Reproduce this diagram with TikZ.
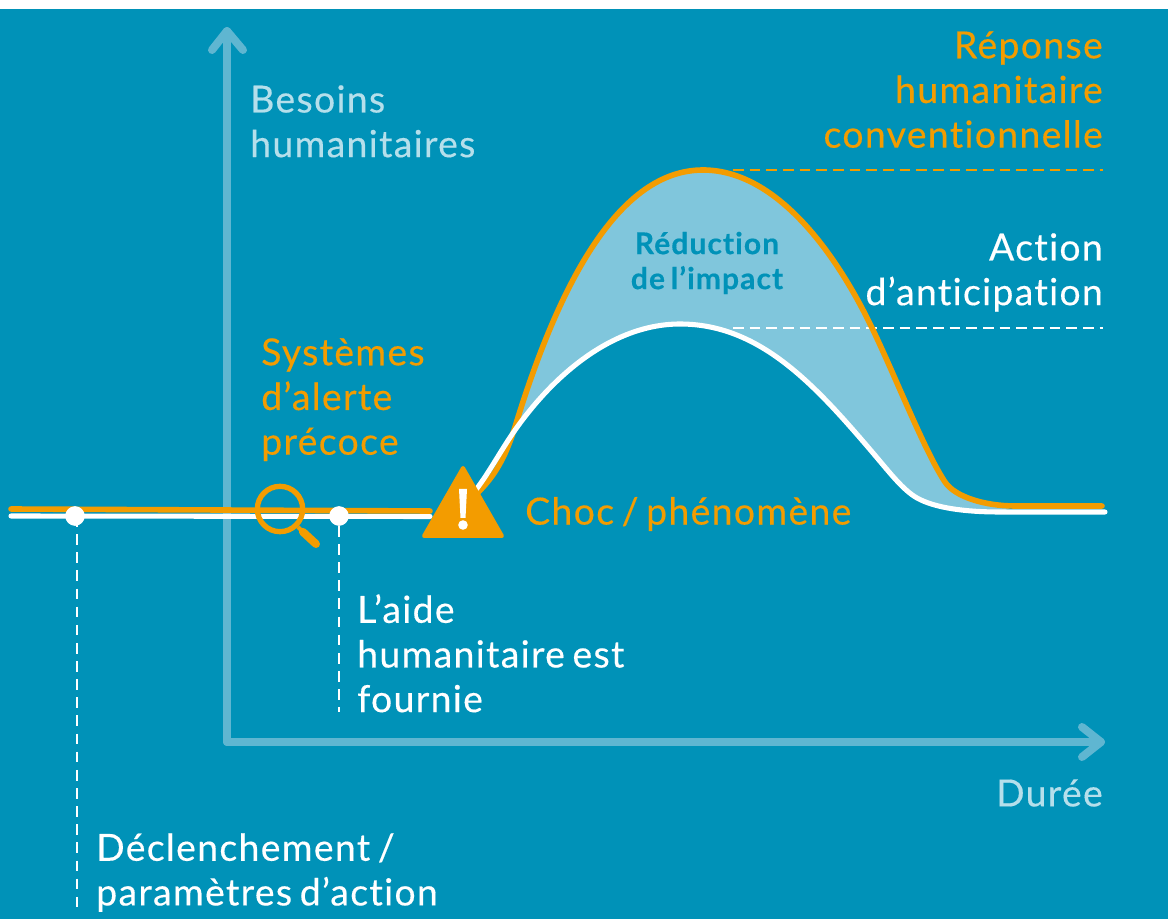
\documentclass[tikz,border=0pt]{standalone}
\usepackage{fontspec}
\setmainfont[LetterSpace=3.6,Ligatures=NoCommon,WordSpace=0.7,FakeBold=0.35]{Lato}
\definecolor{bgblue}{HTML}{0092B8}
\definecolor{axisblue}{HTML}{5FB6D1}
\definecolor{fillblue}{HTML}{80C6DC}
\definecolor{orangeL}{HTML}{F39C00}
\definecolor{paleT}{HTML}{B5DFEB}
\tikzset{
 x=0.75pt,y=-0.75pt,
 axisline/.style={draw=axisblue,line width=6pt,line cap=round,line join=round},
 orangeline/.style={draw=orangeL,line width=4.2pt,line cap=round,line join=round},
 whiteline/.style={draw=white,line width=3.8pt,line cap=round,line join=round},
 dashline/.style={draw=white,line width=2.2pt,dash pattern=on 8pt off 5.6pt},
 leveldash/.style={line width=1.9pt,dash pattern=on 8pt off 4.5pt},
 lab/.style={font=\fontsize{28}{33.5}\selectfont,inner sep=0pt,align=left},
 labr/.style={lab,align=right},
 dotnode/.style={circle,fill=white,minimum size=14.5pt,inner sep=0pt},
}
\begin{document}
\begin{tikzpicture}
\useasboundingbox (0,0) rectangle (1168,919);
\fill[white] (0,0) rectangle (1168,919);
\fill[bgblue] (0,9) rectangle (1168,919);
% coordinates
\coordinate (ytop) at (227,31);
\coordinate (origin) at (227,742);
\coordinate (xend) at (1101,742);
\coordinate (opeak) at (703,170);
\coordinate (wpeak) at (680,324);
% axes
\draw[axisline] (origin) -- (ytop);
\draw[axisline] (212,50) -- (ytop) -- (243,50);
\draw[axisline] (origin) -- (xend);
\draw[axisline] (1082,727) -- (xend) -- (1082,757);
% impact area
\fill[fillblue] (515,427) .. controls (560,280) and (620,170) .. (opeak)
 .. controls (770,170) and (830,240) .. (873,330)
 .. controls (896,378) and (925,452) .. (945,482)
 .. controls (955,497) and (985,506) .. (1015,506)
 -- (1000,512) .. controls (965,512) and (935,508) .. (917,498)
 .. controls (903,490) and (890,473) .. (873,453)
 .. controls (815,385) and (760,324) .. (wpeak)
 .. controls (615,324) and (555,372) .. (513,433) -- cycle;
% dashed levels
\coordinate (od1) at (733,170);\coordinate (od2) at (1103,170);
\coordinate (wd1) at (733,328);\coordinate (wd2) at (1103,328);
\draw[leveldash,draw=orangeL] (od1) -- (od2);
\draw[leveldash,draw=white] (wd1) -- (wd2);
% curves
\draw[whiteline] (11,516) -- (430,516.5);
\draw[orangeline] (11,509) -- (430,511);
\draw[orangeline] (470,500) .. controls (490,482) and (503,465) .. (515,427)
 .. controls (560,280) and (620,170) .. (opeak)
 .. controls (770,170) and (830,240) .. (873,330)
 .. controls (896,378) and (925,452) .. (945,482)
 .. controls (955,497) and (985,506) .. (1015,506) -- (1102,506);
\draw[whiteline] (470,497) .. controls (485,480) and (498,455) .. (513,433)
 .. controls (555,372) and (615,324) .. (wpeak)
 .. controls (760,324) and (815,385) .. (873,453)
 .. controls (890,473) and (903,490) .. (917,498)
 .. controls (935,508) and (965,512) .. (1000,512) -- (1105,512);
% dots and dashed drops
\node[dotnode] (d1) at (75,516) {};
\node[dotnode] (d2) at (339,516) {};
\coordinate (d1e) at (77,908);
\coordinate (d2e) at (339,712);
\coordinate (d1s) at (77,516);
\draw[dashline] (d1s) -- (d1e);
\draw[dashline] (d2) -- (d2e);
\node[dotnode] at (d1) {};
\node[dotnode] at (d2) {};
% magnifier
\node[circle,draw=orangeL,line width=4pt,minimum size=34pt,inner sep=0pt] (mag) at (280,509) {};
\coordinate (mage) at (316,544);
\draw[draw=orangeL,line width=6pt,line cap=round] (mag.-45) ++(5,5) -- (mage);
\draw[draw=orangeL,line width=3pt] (mag.-45) -- ++(7,7);
% warning triangle
\fill[orangeL,draw=orangeL,line width=3pt,line join=round] (424,536) -- (463,468) -- (502,536) -- cycle;
\fill[white] (459,489) -- (467,489) -- (465.5,518) -- (460.5,518) -- cycle;
\fill[white] (463,525) circle (4.8);
% labels
\node[lab,text=paleT,anchor=north west] (besoins) at (250,85) {Besoins\\humanitaires};
\node[labr,text=orangeL,anchor=north east] (rep) at (1103,31) {Réponse\\humanitaire\\conventionnelle};
\node[labr,text=white,anchor=north east] (act) at (1103,233) {Action\\d’anticipation};
\node[lab,text=orangeL,anchor=north west] (sys) at (261,338) {Systèmes\\d’alerte\\précoce};
\node[lab,text=orangeL,anchor=west] (choc) at (525,514) {Choc / phénomène};
\node[lab,text=white,anchor=north west] (aide) at (357,594) {L’aide\\humanitaire est\\fournie};
\node[lab,text=paleT,anchor=east] (duree) at (1103,793) {Durée};
\node[lab,text=white,anchor=north west] (decl) at (96,833) {Déclenchement /\\paramètres d’action};
\node[inner sep=0pt,align=center,text=bgblue,font=\fontsize{22.5}{26.25}\selectfont\bfseries] (red) at (707,263) {Réduction\\de l’impact};
\end{tikzpicture}
\end{document}
